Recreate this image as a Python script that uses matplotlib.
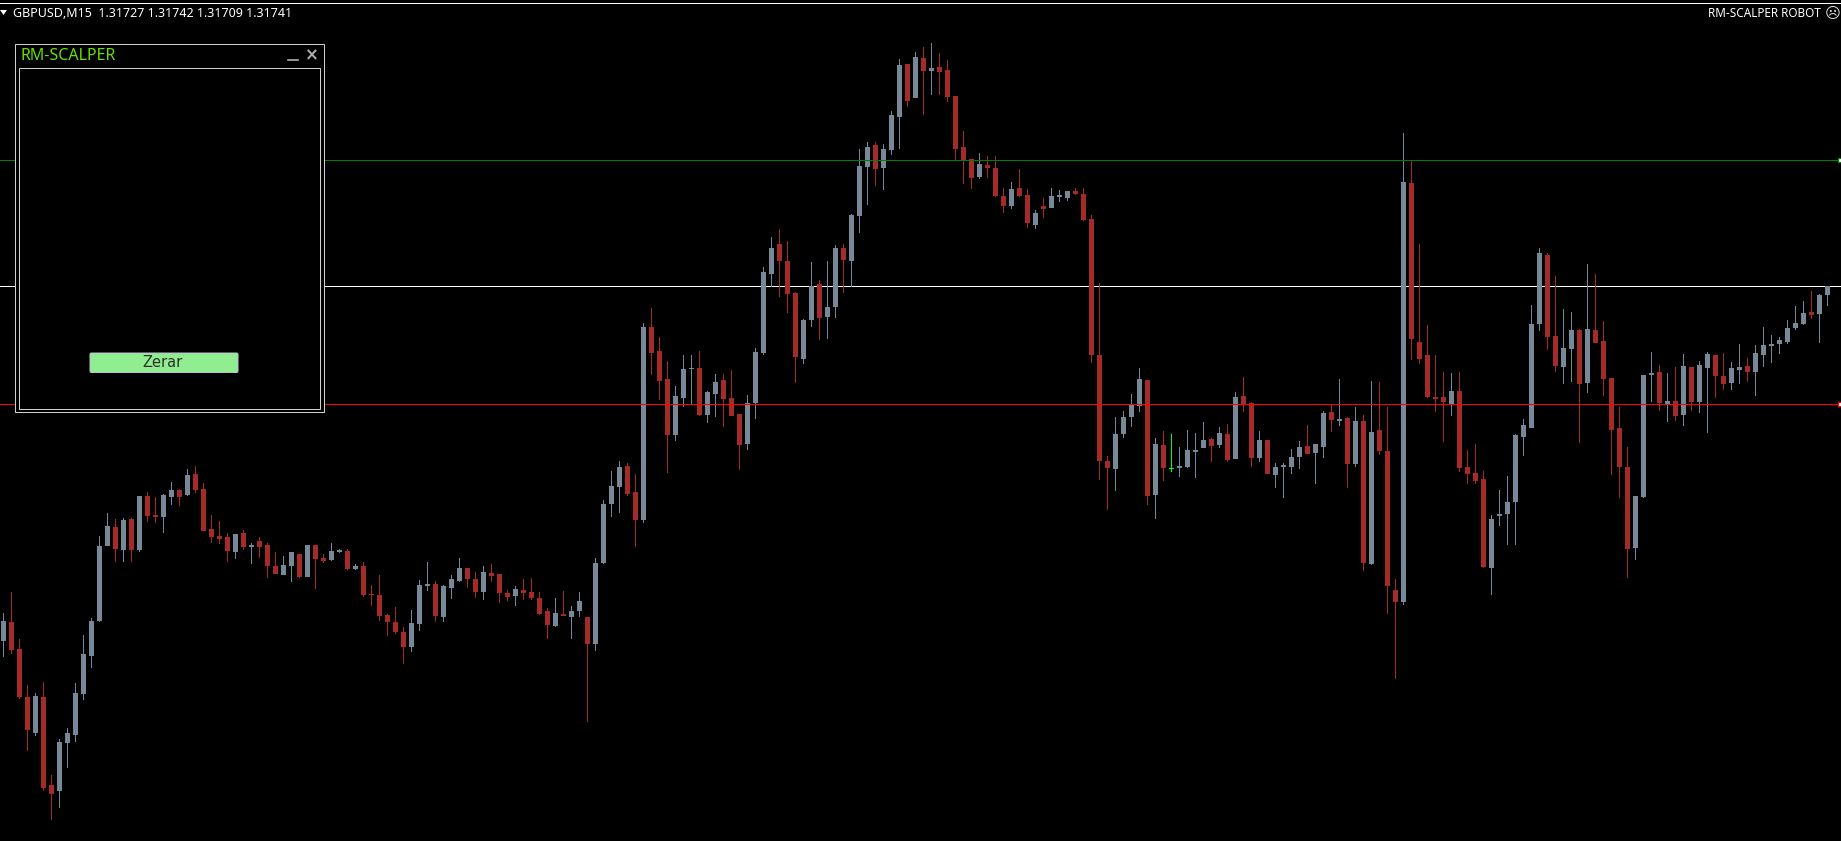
import matplotlib
matplotlib.use("Agg")
import numpy as np
import matplotlib.pyplot as plt
from matplotlib.patches import Rectangle, Polygon, FancyBboxPatch

W, H = 1841, 841
header = "GBPUSD,M15  1.31727 1.31742 1.31709 1.31741"
robot_label = "RM-SCALPER ROBOT"
panel_title = "RM-SCALPER"
button_label = "Zerar"

# levels (screen rows, so smaller = higher price)
level_green = 160
level_white = 286
level_red = 404

# g = up, r = down, l = the lime doji
dirs = ("grrrgrrggg" "ggggrgrgrr" "ggrgrrrrrg" "rgrrrggrgr" "rggrgrrrrr"
        "rgggrgggrr" "grrrgrrrrg" "rggrggggrr" "grrrgggrgg" "rrrggggrrr"
        "ggrggrgggr" "gggrgrgrrr" "rrgrrrgrrg" "rgggrrrrrg" "gggrgrlggg"
        "grgrgrrgrg" "gggrggrgrg" "rgrrrgrrrr" "rgrrrrgggg" "gggrrggrgr"
        "rrrrgggrgr" "grggrrggrg" "ggggggrgg")

highs = [613,592,639,685,693,682,775,739,728,683,
         635,618,536,513,519,518,518,496,492,497,
         494,482,489,469,466,483,515,521,533,534,
         530,543,537,543,552,556,552,554,545,545,
         554,543,549,549,564,562,585,575,614,607,
         627,610,580,562,581,585,575,558,568,572,
         566,564,574,590,586,579,578,592,608,598,
         591,606,592,617,558,500,471,461,463,474,
         323,308,337,361,386,355,355,351,391,374,
         374,370,414,395,348,267,237,229,241,292,
         319,262,280,261,245,244,214,149,142,142,
         144,111,59,64,52,47,43,53,60,96,
         131,159,153,156,156,188,182,169,189,210,
         198,188,190,191,188,188,215,283,456,417,
         411,394,368,380,438,431,434,447,430,433,
         422,438,427,424,392,377,402,431,440,463,
         463,449,441,425,444,411,405,379,417,407,
         415,381,382,407,579,133,161,244,325,355,
         372,373,372,450,444,471,515,490,476,434,
         419,305,248,253,276,309,312,329,264,274,
         321,378,407,447,496,375,352,365,373,367,
         354,367,361,352,355,353,362,344,358,345,
         327,335,337,320,306,301,291,294,286]

tops = [621,622,649,697,696,697,785,742,733,693,
        654,621,546,526,527,520,519,496,496,515,
        495,490,490,475,474,489,529,536,537,534,
        533,545,541,545,566,565,552,554,545,545,
        558,551,550,551,566,566,594,595,615,622,
        632,623,585,584,584,586,579,568,568,579,
        572,573,574,593,589,590,592,598,611,613,
        614,611,601,617,563,504,486,467,466,492,
        327,327,351,379,396,369,368,368,392,382,
        380,398,414,403,352,272,248,244,261,293,
        320,286,284,307,248,248,215,166,147,145,
        149,115,65,64,57,58,68,67,70,96,
        147,159,164,165,168,196,189,188,195,213,
        206,196,195,191,191,194,219,355,461,434,
        417,405,379,380,444,445,468,466,450,450,
        440,439,433,434,397,396,403,440,440,467,
        465,457,447,446,444,413,412,419,418,421,
        421,432,430,451,590,182,183,342,355,397,
        397,391,391,467,473,479,519,514,502,435,
        425,324,253,255,336,348,330,330,329,330,
        341,378,428,467,496,375,373,372,401,401,
        366,367,365,354,355,376,368,367,366,353,
        345,344,340,328,323,313,312,295,286]

bots = [641,650,697,730,733,788,794,791,743,735,
        694,656,621,546,549,550,550,550,516,517,
        517,497,497,495,490,531,537,539,551,552,
        547,547,547,566,574,575,566,577,577,559,
        561,560,552,569,569,595,595,616,622,632,
        647,647,624,586,616,617,588,581,579,592,
        592,576,593,597,596,593,598,614,625,626,
        616,617,611,644,644,563,504,487,494,520,
        520,353,381,435,435,398,369,415,415,394,
        399,416,445,444,403,353,274,261,294,357,
        359,320,318,317,307,260,261,216,167,169,
        168,150,117,101,98,71,71,72,97,149,
        160,178,177,168,196,206,206,196,223,225,
        209,208,197,198,194,220,355,461,468,469,
        434,417,406,496,495,468,469,468,467,452,
        448,446,445,460,459,404,458,458,474,475,
        467,467,457,454,453,447,420,421,464,464,
        563,564,451,586,602,602,339,359,397,399,
        402,404,468,474,481,567,568,516,514,502,
        437,428,324,337,366,367,349,384,383,343,
        379,430,467,549,548,497,375,403,404,416,
        415,402,402,368,376,384,383,370,372,372,
        355,346,344,342,328,324,315,314,295]

lows = [657,654,699,751,736,791,820,808,768,742,
        700,668,622,546,562,562,562,552,522,523,
        533,505,506,496,493,531,543,544,562,559,
        550,564,558,578,574,575,582,578,577,589,
        563,561,553,570,570,597,606,621,636,634,
        664,652,631,591,622,622,599,582,588,598,
        600,582,603,601,606,600,600,615,639,627,
        616,639,617,722,651,564,517,513,496,547,
        523,375,400,473,441,407,404,416,423,417,
        427,416,470,450,419,355,287,297,313,383,
        364,327,340,339,318,293,287,233,205,186,
        190,155,149,107,98,115,95,95,102,160,
        184,189,179,178,197,213,209,197,228,229,
        218,208,202,201,195,221,363,480,510,491,
        438,427,412,505,519,481,472,477,468,478,
        448,462,448,462,459,412,467,462,474,488,
        498,474,469,454,484,458,432,426,488,467,
        571,565,455,614,679,605,360,364,398,412,
        442,416,472,484,484,568,595,526,545,545,
        456,428,331,350,372,384,382,443,393,343,
        396,475,498,578,560,498,402,411,422,421,
        426,411,413,433,398,390,390,384,382,396,
        367,363,354,344,330,325,319,343,306]

COL = {"g": "#778899", "r": "#A52A2A", "l": "#00FF00"}

fig = plt.figure(figsize=(W / 100, H / 100), dpi=100, facecolor="black")
ax = fig.add_axes([0, 0, 1, 1], facecolor="black")
idx = np.arange(len(dirs))
colors = [COL[d] for d in dirs]
highs, lows, tops, bots = map(np.array, (highs, lows, tops, bots))

# 8 px per bar, first bar centred on 3.5 px
ax.set_xlim(-3.5 / 8, (W - 3.5) / 8)
ax.set_ylim(H, 0)
ax.axis("off")

ax.axhline(level_white, color="white", lw=0.5, zorder=1, antialiased=False)
ax.bar(idx, lows - highs, bottom=highs, width=1 / 8, color=colors, lw=0, antialiased=False, zorder=2)
ax.bar(idx, bots - tops, bottom=tops, width=5 / 8, color=colors, lw=0, antialiased=False, zorder=3)
ax.axhline(level_green, color="#008000", lw=0.5, zorder=4, antialiased=False)
ax.axhline(level_red, color="#FF0000", lw=0.5, zorder=4, antialiased=False)

# overlay in screen pixels for the terminal furniture
ov = fig.add_axes([0, 0, 1, 1], facecolor="none")
ov.set_xlim(0, W)
ov.set_ylim(H, 0)
ov.axis("off")

ov.plot([0, W], [2.5, 2.5], color="white", lw=0.5, antialiased=False)
ov.add_patch(Polygon([[0, 10], [7, 10], [3.5, 15]], color="white", lw=0))
ov.text(13, 13, header, color="white", fontsize=9.0, family="Noto Sans", va="center", ha="left")
ov.text(1821, 13.5, robot_label, color="white", fontsize=8.45, family="Noto Sans", va="center", ha="right")
ov.text(1832.5, 13, "\u2639", color="#DDDDDD", fontsize=11, family="DejaVu Sans", va="center", ha="center")

# line end markers
for lv, c in [(level_green, "#008000"), (level_red, "#FF0000")]:
    ov.add_patch(Rectangle((1838.5, lv - 2), 4, 4, fc="white", ec=c, lw=0.9, zorder=5))

# panel
ov.add_patch(Rectangle((15.5, 43.5), 308.5, 368.5, fc="black", ec="#D0D0D0", lw=0.72, zorder=6))
ov.add_patch(Rectangle((19.5, 67.5), 300.5, 341, fc="black", ec="#D0D0D0", lw=0.72, zorder=7))
ov.text(21, 56, panel_title, color="#66E000", fontsize=11.5, family="Noto Sans", va="center", ha="left", zorder=8)
ov.plot([288, 298], [59.5, 59.5], color="#B0B0B0", lw=1.2, zorder=8)
ov.text(312, 55.5, "\u00d7", color="#B0B0B0", fontsize=12, weight="bold", family="DejaVu Sans", va="center", ha="center", zorder=8)
ov.add_patch(FancyBboxPatch((90, 353), 148, 19.5, boxstyle="round,pad=0,rounding_size=1.5",
                            fc="#90EE90", ec="#C0C0D8", lw=0.7, zorder=8))
ov.text(162.5, 362, button_label, color="#2E2E2E", fontsize=10.5, family="DejaVu Sans", va="center", ha="center", zorder=9)

fig.savefig("out.png", dpi=100, facecolor="black")
